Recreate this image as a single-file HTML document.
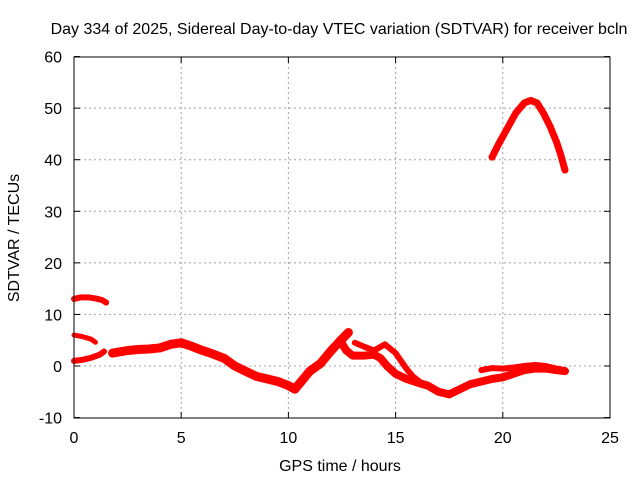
<!DOCTYPE html>
<html><head><meta charset="utf-8"><style>
body{margin:0;background:#fff;}
svg{display:block;font-family:"Liberation Sans",sans-serif;}
</style></head><body>
<svg id="chart" width="640" height="480">
<rect width="640" height="480" fill="#fff"/>
<text x="339" y="34" text-anchor="middle" font-size="16">Day 334 of 2025, Sidereal Day-to-day VTEC variation (SDTVAR) for receiver bcln</text>
<g id="grid"></g>
<g id="series"></g>
<rect x="74" y="57" width="536" height="361" fill="none" stroke="#000" stroke-width="1"/>
<g id="ticks"></g>
<text x="340" y="471" text-anchor="middle" font-size="16">GPS time / hours</text>
<text transform="translate(19,238) rotate(-90)" text-anchor="middle" font-size="16">SDTVAR / TECUs</text>
</svg>
<script>
const xTicks=[0,5,10,15,20,25];
const yTicks=[-10,0,10,20,30,40,50,60];
const arcX=[19.5,19.8,20.2,20.6,21.0,21.3,21.6,21.9,22.2,22.5,22.7,22.9];
const arcY=[40.5,43,46,49,51,51.5,51,49,46.5,43.5,41,38];
const topX=[0,0.3,0.7,1.0,1.3,1.5];
const topY=[13,13.3,13.3,13.1,12.8,12.3];
const midX=[0,0.4,0.8,1.0];
const midY=[6,5.7,5.2,4.6];
const lowX=[0,0.4,0.8,1.2,1.4];
const lowY=[1,1.2,1.6,2.2,2.8];
const mainX=[1.8,2.5,3,3.5,4,4.5,5,5.5,6,6.5,7,7.5,8,8.5,9,9.5,10,10.3,10.6,11,11.5,12,12.4,12.8];
const mainY=[2.5,3,3.2,3.3,3.5,4.2,4.5,3.8,3,2.3,1.5,0,-1,-2,-2.5,-3,-3.8,-4.5,-3,-1,0.5,3,4.8,6.5];
const b2X=[12.4,12.7,13,13.5,14,14.3,14.6,15,15.5,16,16.5,17,17.5,18,18.5,19,19.5,20,20.5,21,21.5,22,22.5,22.9];
const b2Y=[5,3,2,2,2.2,1.5,0,-1.5,-2.5,-3.2,-3.8,-5,-5.5,-4.5,-3.5,-3,-2.5,-2.2,-1.5,-0.8,-0.5,-0.5,-0.8,-1];
const b3X=[13.1,13.5,14,14.5,15,15.5,15.8,16.2];
const b3Y=[4.5,3.8,3,4.2,2.5,-0.5,-2,-3.3];
const b4X=[19,19.5,20,20.5,21,21.5,22,22.5,22.9];
const b4Y=[-0.8,-0.4,-0.5,-0.3,0,0.2,0,-0.5,-0.8];
const xs=v=>74+v*536/25;
const ys=v=>366-v*361/70;
const NS='http://www.w3.org/2000/svg';
const grid=document.getElementById('grid'),ticks=document.getElementById('ticks'),ser=document.getElementById('series');
function mk(t,a,p){const e=document.createElementNS(NS,t);for(const k in a)e.setAttribute(k,a[k]);p.appendChild(e);return e;}
xTicks.forEach(t=>{
 const x=xs(t);
 if(t>0&&t<25){const g=mk('line',{x1:x,x2:x,y1:57,y2:418,stroke:'#a0a0a0','stroke-dasharray':'2,3'},grid);
 
 }
 const l=mk('text',{x:x,y:443,'text-anchor':'middle','font-size':'16'},ticks);l.textContent=t;
 
 
 mk('line',{x1:x,x2:x,y1:418,y2:412,stroke:'#000'},ticks);
 mk('line',{x1:x,x2:x,y1:57,y2:63,stroke:'#000'},ticks);
});
yTicks.forEach(t=>{
 const y=ys(t);
 if(t>-10&&t<60){const g=mk('line',{x1:74,x2:610,y1:y,y2:y,stroke:'#a0a0a0','stroke-dasharray':'2,3'},grid);
 
 }
 const l=mk('text',{x:62,y:y+6,'text-anchor':'end','font-size':'16'},ticks);l.textContent=t;
 
 
 mk('line',{x1:74,x2:80,y1:y,y2:y,stroke:'#000'},ticks);
 mk('line',{x1:610,x2:604,y1:y,y2:y,stroke:'#000'},ticks);
});
function draw(X,Y,name,w){
 const p=mk('polyline',{points:X.map((x,i)=>xs(x)+','+ys(Y[i])).join(' '),fill:'none',stroke:'#f00','stroke-width':w,'stroke-linejoin':'round','stroke-linecap':'round'},ser);
 
 
}
draw(arcX,arcY,'series-arc',7);
draw(topX,topY,'series-top',6);
draw(midX,midY,'series-mid',5);
draw(lowX,lowY,'series-low',6);
draw(mainX,mainY,'series-main',9);
draw(b2X,b2Y,'series-branch-2',8);
draw(b3X,b3Y,'series-branch-3',6);
draw(b4X,b4Y,'series-branch-4',6);
</script>
</body></html>
